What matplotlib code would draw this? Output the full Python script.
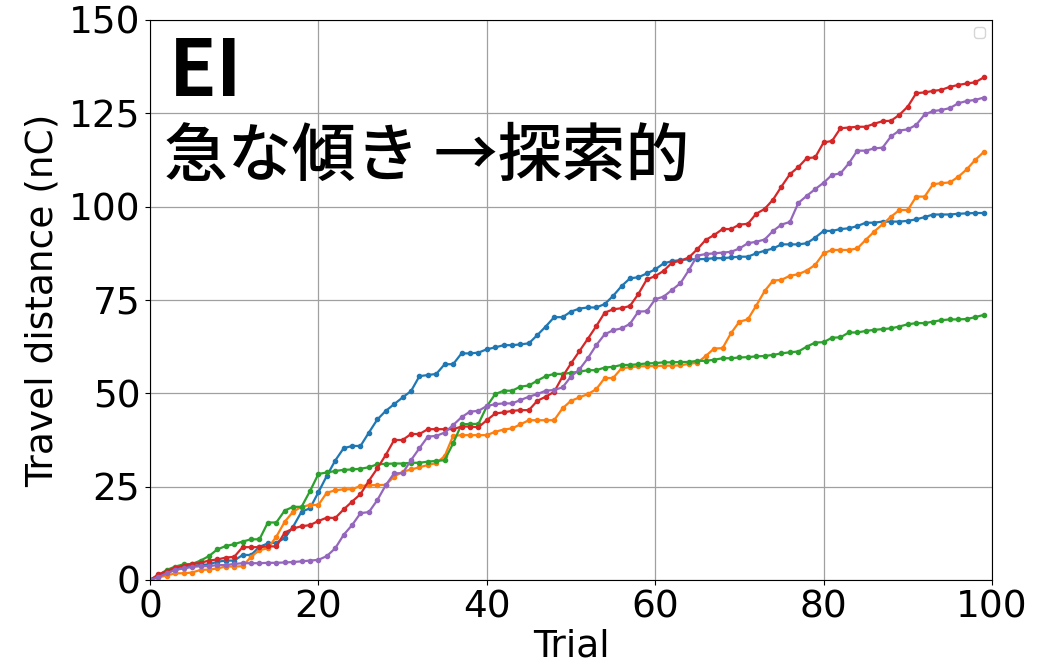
import matplotlib
matplotlib.use("Agg")
import matplotlib.pyplot as plt
import numpy as np

trials = np.arange(100)

run_blue = [
    0, 0.9, 2.0, 2.7, 3.3, 3.8, 4.0, 4.2, 4.9, 5.2,
    5.2, 6.7, 6.7, 8.9, 9.8, 10.0, 11.2, 14.3, 18.3, 19.2,
    23.5, 27.9, 32.0, 35.3, 35.9, 35.9, 39.5, 43.0, 45.3, 47.1,
    48.9, 50.6, 54.6, 54.9, 55.2, 57.8, 57.8, 60.7, 60.7, 60.9,
    61.8, 62.3, 62.9, 62.9, 63.1, 63.4, 65.6, 67.9, 70.4, 70.4,
    71.9, 72.7, 73.0, 73.0, 73.9, 76.1, 78.7, 80.8, 81.1, 82.1,
    83.2, 84.8, 85.4, 85.7, 85.9, 85.9, 86.0, 86.2, 86.2, 86.4,
    86.6, 86.6, 87.5, 88.2, 88.8, 89.9, 89.9, 89.9, 90.2, 91.7,
    93.5, 93.5, 94.0, 94.2, 94.8, 95.7, 95.7, 96.0, 96.0, 96.0,
    96.2, 96.6, 97.2, 97.9, 97.9, 97.9, 98.1, 98.2, 98.3, 98.3,
]

run_orange = [
    0, 0.7, 1.2, 1.8, 1.8, 2.0, 2.7, 2.8, 3.1, 3.6,
    3.6, 3.7, 6.2, 8.0, 8.5, 11.6, 15.6, 18.3, 19.6, 20.1,
    20.1, 23.4, 24.0, 24.3, 24.3, 25.2, 25.4, 25.4, 25.5, 27.7,
    29.0, 29.6, 30.2, 30.8, 31.3, 33.2, 38.6, 38.8, 38.8, 38.8,
    38.8, 39.7, 40.3, 40.6, 41.7, 42.8, 42.8, 42.8, 42.8, 46.0,
    48.0, 48.9, 49.8, 51.1, 54.1, 54.1, 56.7, 57.0, 57.2, 57.3,
    57.3, 57.4, 57.4, 57.5, 57.9, 58.2, 60.0, 62.0, 62.1, 66.1,
    69.2, 69.8, 73.5, 77.4, 80.2, 80.4, 81.5, 81.9, 82.9, 84.4,
    87.5, 88.4, 88.4, 88.4, 88.8, 91.1, 93.3, 95.3, 97.3, 99.1,
    99.1, 102.7, 102.7, 106.0, 106.3, 106.5, 108.0, 110.0, 112.5, 114.6,
]

run_green = [
    0, 1.3, 2.7, 3.6, 4.2, 4.3, 5.2, 6.4, 8.2, 9.1,
    9.6, 10.3, 10.9, 10.9, 15.4, 15.4, 18.6, 19.6, 19.6, 23.8,
    28.4, 28.8, 29.2, 29.5, 29.6, 29.8, 30.2, 31.0, 31.1, 31.2,
    31.2, 31.4, 31.4, 31.7, 31.9, 32.1, 36.6, 41.7, 41.8, 41.8,
    46.5, 49.8, 50.7, 50.7, 51.8, 52.1, 53.4, 54.6, 55.2, 55.2,
    55.5, 55.8, 56.2, 56.2, 56.9, 57.1, 57.6, 57.6, 57.8, 58.0,
    58.1, 58.3, 58.3, 58.4, 58.4, 58.7, 58.7, 59.0, 59.4, 59.4,
    59.6, 59.7, 59.9, 60.0, 60.3, 60.7, 61.0, 61.2, 62.5, 63.6,
    63.7, 64.9, 65.0, 66.3, 66.3, 66.7, 67.0, 67.2, 67.4, 67.9,
    68.5, 68.8, 68.8, 69.2, 69.6, 69.8, 69.8, 69.9, 70.4, 71.0,
]

run_red = [
    0, 1.5, 2.4, 3.3, 3.8, 4.3, 4.6, 5.2, 5.5, 6.0,
    6.2, 8.8, 8.8, 8.8, 9.0, 9.0, 12.7, 13.8, 14.4, 14.7,
    15.8, 16.7, 16.6, 18.9, 21.0, 23.0, 26.6, 29.9, 33.5, 37.5,
    37.5, 39.1, 39.1, 40.4, 40.4, 40.4, 40.4, 41.1, 41.1, 40.9,
    42.8, 44.6, 44.9, 45.3, 45.5, 45.5, 48.0, 49.1, 50.4, 54.5,
    58.0, 61.3, 64.6, 68.0, 71.6, 72.5, 72.8, 73.4, 76.6, 80.5,
    81.4, 82.8, 85.0, 85.5, 86.4, 88.6, 91.1, 92.4, 94.0, 94.0,
    95.2, 95.4, 98.1, 99.4, 101.9, 105.4, 108.7, 110.6, 113.0, 113.2,
    117.2, 117.6, 121.0, 121.2, 121.4, 121.4, 122.2, 122.9, 123.0, 124.6,
    126.8, 130.4, 130.6, 131.0, 131.3, 132.1, 132.6, 133.0, 133.3, 134.6,
]

run_purple = [
    0, 0.8, 1.8, 2.7, 3.1, 3.5, 3.7, 3.7, 4.0, 4.0,
    4.3, 4.5, 4.5, 4.5, 4.6, 4.6, 4.7, 4.8, 5.0, 5.2,
    5.4, 6.4, 8.5, 12.1, 14.7, 17.9, 18.2, 21.4, 25.4, 28.6,
    28.6, 32.1, 35.3, 38.4, 38.6, 39.5, 41.5, 43.6, 45.1, 45.3,
    46.6, 47.1, 47.3, 47.3, 48.2, 49.1, 49.8, 50.7, 50.9, 51.6,
    54.5, 56.4, 59.4, 62.9, 65.8, 66.9, 67.4, 68.6, 71.9, 72.0,
    75.2, 75.9, 77.7, 79.5, 83.0, 86.9, 87.3, 87.5, 87.7, 87.9,
    88.8, 90.2, 90.6, 91.2, 93.5, 95.2, 95.9, 101.0, 102.9, 104.7,
    106.4, 108.5, 108.9, 111.6, 115.0, 115.0, 115.6, 115.8, 118.8, 120.4,
    120.7, 121.9, 124.7, 125.6, 125.9, 126.4, 127.7, 128.3, 128.6, 129.2,
]

runs = [run_blue, run_orange, run_green, run_red, run_purple]
colors = ["#1f77b4", "#ff7f0e", "#2ca02c", "#d62728", "#9467bd"]

x_ticks = [0, 20, 40, 60, 80, 100]
y_ticks = [0, 25, 50, 75, 100, 125, 150]

title_text = "EI"
note_text = "急な傾き →探索的"

plt.rcParams["font.family"] = ["DejaVu Sans"]

fig = plt.figure(figsize=(10.43, 6.66), dpi=100)
ax = fig.add_axes([150 / 1043, 86 / 666, 842 / 1043, 560 / 666])

for values, color in zip(runs, colors):
    ax.plot(trials, values, color=color, linewidth=1.6, marker="o", markersize=3)

ax.set_xlim(0, 100)
ax.set_ylim(0, 150)
ax.set_xticks(x_ticks)
ax.set_yticks(y_ticks)
ax.tick_params(labelsize=27)
ax.set_xlabel("Trial", fontsize=27, labelpad=2)
ax.set_ylabel("Travel distance (nC)", fontsize=27, labelpad=6)
ax.grid(True, color="#a0a0a0", linewidth=0.9)

cjk = ["Noto Sans CJK JP", "DejaVu Sans"]
ax.text(0.022, 0.975, title_text, transform=ax.transAxes, fontsize=56,
        fontweight="bold", family=cjk, va="top", ha="left")
ax.text(0.017, 0.755, note_text, transform=ax.transAxes, fontsize=46,
        fontweight="medium", family=cjk, va="center", ha="left")

ax.legend(handles=[], loc="upper right")

fig.savefig("out.png", dpi=100)
